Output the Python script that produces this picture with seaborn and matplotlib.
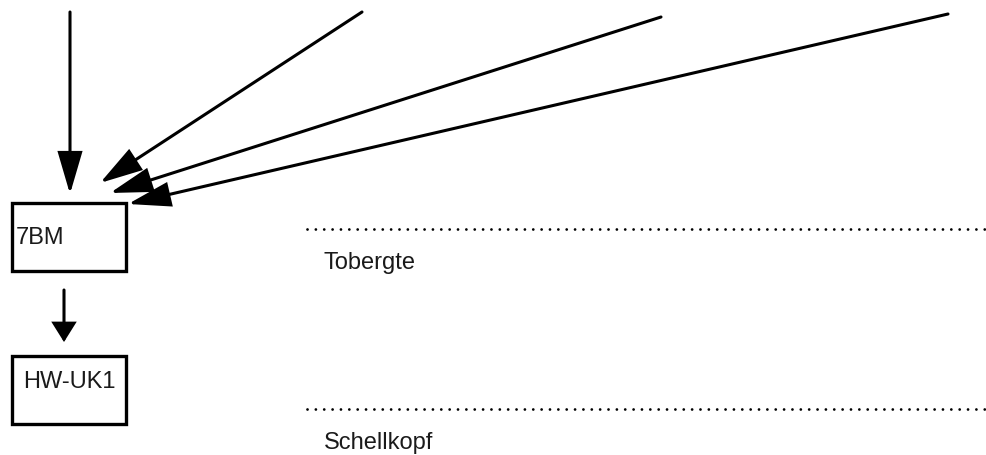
"""Flow sketch: inflows into 7BM, then HW-UK1, with two level markers."""

import matplotlib

matplotlib.use("Agg")

import matplotlib.pyplot as plt
import seaborn as sns
from matplotlib.patches import FancyArrowPatch, Rectangle

# node boxes: label, left, top, right, bottom (pixel space, y downwards)
box_labels = ["7BM", "HW-UK1"]
box_left = [12, 12]
box_top = [203, 356]
box_right = [126, 126]
box_bottom = [271, 424]
label_x = [16, 23]
label_y = [244, 388]

# inflow arrows: start -> tip
arrow_x0 = [70, 362, 661, 948, 64]
arrow_y0 = [12, 12, 17, 14, 290]
arrow_x1 = [70, 100, 110, 128, 64]
arrow_y1 = [194, 183, 193, 204, 342]
head_len = [2.6, 2.6, 2.6, 2.6, 1.15]
head_wid = [0.76, 0.76, 0.76, 0.76, 0.72]

# level markers
level_names = ["Tobergte", "Schellkopf"]
level_y = [229, 409]
level_x0 = 307
level_x1 = 985
name_x = 324
name_y = [269, 449]

sns.set_style("white")
plt.rcParams["font.family"] = ["Liberation Sans", "DejaVu Sans"]

fig = plt.figure(figsize=(9.87, 4.55), dpi=100)
ax = fig.add_axes([0, 0, 1, 1])
ax.set_xlim(0, 987)
ax.set_ylim(455, 0)
ax.axis("off")

for x0, y0, x1, y1, hl, hw in zip(arrow_x0, arrow_y0, arrow_x1, arrow_y1, head_len, head_wid):
    arrow = FancyArrowPatch(
        (x0, y0), (x1, y1),
        arrowstyle=f"-|>,head_length={hl},head_width={hw}",
        mutation_scale=10, shrinkA=0, shrinkB=0,
        lw=2.2, color="black", joinstyle="miter",
    )
    ax.add_patch(arrow)

for name, l, t, r, b, tx, ty in zip(box_labels, box_left, box_top, box_right, box_bottom, label_x, label_y):
    ax.add_patch(Rectangle((l, t), r - l, b - t, fill=False, lw=2.4, ec="black"))
    ax.text(tx, ty, name, fontsize=17, color="#1a1a1a", ha="left", va="baseline")

for name, ly, ny in zip(level_names, level_y, name_y):
    ax.hlines(ly, level_x0, level_x1, colors="black", lw=2.0,
              linestyles=(0, (0.01, 3.0)), capstyle="round")
    ax.text(name_x, ny, name, fontsize=17, color="#1a1a1a", ha="left", va="baseline")

fig.savefig("out.png", dpi=100)
